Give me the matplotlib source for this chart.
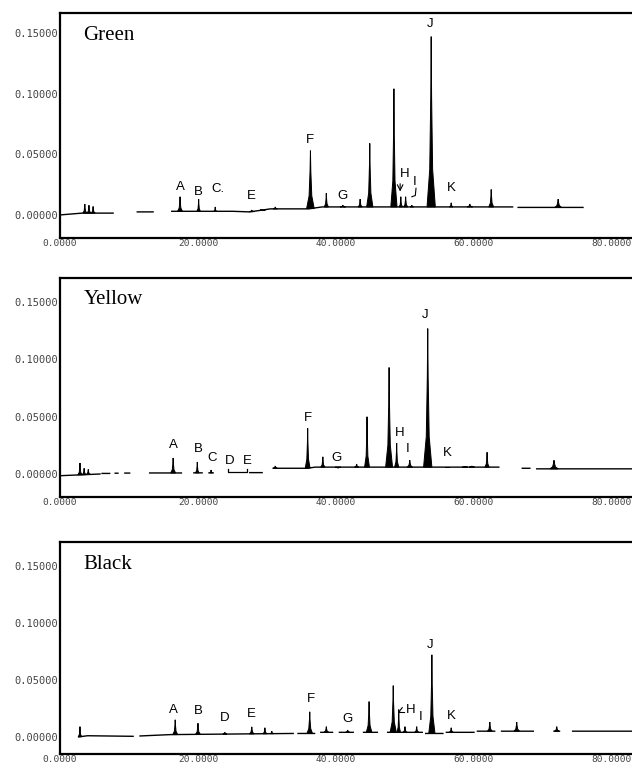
import numpy as np
import matplotlib.pyplot as plt

nan = np.nan

# ---- Green ----
green_base_t = [0.0, 3.2, 5.5, 7.7, nan, 11.2, 13.5, nan, 16.2, 25.0, 27.5, 30.5, 36.0, 38.0, 65.6, nan, 66.4, 75.8]
green_base_v = [0.0000, 0.0015, 0.0015, 0.0015, nan, 0.0025, 0.0025, nan, 0.0030, 0.0030, 0.0025, 0.0050, 0.0050, 0.0066, 0.0066, nan, 0.0062, 0.0062]
green_pk_t = [3.6, 4.2, 4.8, 17.4, 20.1, 22.5, 27.8, 29.4, 31.2, 36.3, 38.6, 41.0, 43.5, 44.9, 48.4, 49.4, 50.1, 51.0, 53.8, 56.7, 59.4, 62.5, 72.2]
green_pk_h = [0.009, 0.008, 0.007, 0.015, 0.013, 0.0066, 0.004, 0.0035, 0.0066, 0.053, 0.018, 0.008, 0.013, 0.059, 0.104, 0.015, 0.015, 0.008, 0.147, 0.010, 0.009, 0.021, 0.013]
green_pk_w = [0.3, 0.3, 0.3, 0.35, 0.25, 0.2, 0.4, 0.4, 0.3, 0.55, 0.3, 0.4, 0.3, 0.45, 0.45, 0.25, 0.3, 0.25, 0.6, 0.25, 0.4, 0.35, 0.5]
green_lab = ["A", "B", "C.", "E", "F", "G", "H", "I", "J", "K"]
green_lab_t = [17.4, 20.1, 22.9, 27.7, 36.2, 41.0, 50.0, 51.4, 53.6, 56.7]
green_lab_v = [0.0231, 0.0190, 0.0214, 0.0157, 0.0618, 0.0157, 0.0338, 0.0272, 0.157, 0.0222]

# ---- Yellow ----
yellow_base_t = [0.0, 5.8, nan, 6.1, 7.2, nan, 8.0, 8.4, nan, 9.4, 10.1, nan, 13.0, 17.6, nan, 19.4, 20.6, nan,
                 21.6, 22.2, nan, 27.5, 29.3, nan, 30.9, 35.8, 37.0, 63.6, nan, 67.0, 68.1, nan, 69.1, 85.0]
yellow_base_v = [-0.0015, 0.0000, nan, 0.0005, 0.0005, nan, 0.0007, 0.0007, nan, 0.0008, 0.0008, nan, 0.0009, 0.0009, nan,
                 0.0010, 0.0010, nan, 0.0010, 0.0010, nan, 0.0012, 0.0012, nan, 0.0050, 0.0050, 0.0060, 0.0060, nan,
                 0.0050, 0.0050, nan, 0.0045, 0.0045]
yellow_pk_t = [2.9, 3.5, 4.1, 16.4, 19.9, 21.9, 31.2, 35.9, 38.1, 40.3, 43.0, 44.5, 47.7, 48.8, 50.7, 53.3, 56.1, 58.7, 59.7, 61.9, 71.6]
yellow_pk_h = [0.0096, 0.005, 0.004, 0.014, 0.0105, 0.0035, 0.007, 0.040, 0.015, 0.005, 0.0087, 0.050, 0.093, 0.027, 0.012, 0.127, 0.006, 0.0065, 0.007, 0.019, 0.012]
yellow_pk_w = [0.3, 0.3, 0.3, 0.35, 0.25, 0.2, 0.3, 0.35, 0.3, 0.4, 0.3, 0.35, 0.5, 0.3, 0.4, 0.6, 0.3, 0.4, 0.4, 0.3, 0.6]
yellow_lab = ["A", "B", "C", "D", "E", "F", "G", "H", "I", "J", "K"]
yellow_lab_t = [16.4, 20.0, 22.0, 24.6, 27.1, 35.9, 40.1, 49.3, 50.4, 52.9, 56.2]
yellow_lab_v = [0.0253, 0.0218, 0.0140, 0.0113, 0.0113, 0.0489, 0.0140, 0.0358, 0.0218, 0.139, 0.0183]

# ---- Black ----
black_base_t = [2.7, 4.0, 10.6, nan, 11.6, 16.0, 33.8, nan, 34.5, 36.9, nan, 37.8, 39.5, nan, 40.5, 42.5, nan,
                44.0, 46.0, nan, 47.5, 52.5, nan, 53.0, 55.5, nan, 56.0, 60.0, nan, 60.5, 63.0, nan, 64.0, 68.6, nan,
                71.6, 72.4, nan, 74.3, 85.0]
black_base_v = [0.0000, 0.0010, 0.0005, nan, 0.0008, 0.0020, 0.0030, nan, 0.0030, 0.0030, nan, 0.0040, 0.0040, nan,
                0.0040, 0.0040, nan, 0.0040, 0.0040, nan, 0.0040, 0.0040, nan, 0.0030, 0.0030, nan, 0.0040, 0.0040, nan,
                0.0050, 0.0050, nan, 0.0050, 0.0050, nan, 0.0050, 0.0050, nan, 0.0050, 0.0050]
black_pk_t = [2.9, 16.7, 20.0, 23.9, 27.8, 29.7, 30.7, 36.2, 38.6, 41.7, 44.8, 48.3, 49.1, 50.0, 51.7, 53.9, 56.7, 62.3, 66.2, 72.0]
black_pk_h = [0.009, 0.015, 0.012, 0.004, 0.0088, 0.008, 0.005, 0.022, 0.009, 0.006, 0.031, 0.045, 0.024, 0.009, 0.009, 0.072, 0.008, 0.013, 0.013, 0.009]
black_pk_w = [0.25, 0.35, 0.35, 0.3, 0.35, 0.3, 0.25, 0.4, 0.35, 0.3, 0.4, 0.45, 0.25, 0.3, 0.3, 0.45, 0.3, 0.35, 0.4, 0.35]
black_lab = ["A", "B", "D", "E", "F", "G", "H", "I", "J", "K"]
black_lab_t = [16.5, 20.0, 23.9, 27.7, 36.4, 41.6, 50.9, 52.2, 53.6, 56.7]
black_lab_v = [0.0237, 0.0228, 0.0167, 0.0202, 0.0333, 0.0158, 0.0237, 0.0175, 0.0807, 0.0184]

x_ticks = [0, 20, 40, 60, 80]
x_ticklabels = ["0.0000", "20.0000", "40.0000", "60.0000", "80.0000"]
y_ticks = [0.0, 0.05, 0.10, 0.15]
y_ticklabels = ["0.00000", "0.05000", "0.10000", "0.15000"]

panels = [
    ("Green", green_base_t, green_base_v, green_pk_t, green_pk_h, green_pk_w, green_lab, green_lab_t, green_lab_v),
    ("Yellow", yellow_base_t, yellow_base_v, yellow_pk_t, yellow_pk_h, yellow_pk_w, yellow_lab, yellow_lab_t, yellow_lab_v),
    ("Black", black_base_t, black_base_v, black_pk_t, black_pk_h, black_pk_w, black_lab, black_lab_t, black_lab_v),
]

# axes boxes in figure fraction, and y-limits
boxes = [(0.0949, 0.6889, 0.92, 0.2941), (0.0949, 0.3503, 0.92, 0.2863), (0.0949, 0.0144, 0.92, 0.2772)]
ylims = [(-0.0190, 0.1664), (-0.0201, 0.1711), (-0.0150, 0.1710)]
title_y = [0.898, 0.900, 0.892]

# needle shaped peak outline (relative)
shape_x = np.array([-1.0, -0.35, -0.1, 0.0, 0.1, 0.35, 1.0])
shape_y = np.array([0.0, 0.22, 0.65, 1.0, 0.65, 0.22, 0.0])

fig = plt.figure(figsize=(6.32, 7.65), dpi=100)

axes = []
for i, (name, bt, bv, pt, ph, pw, lab, lt, lv) in enumerate(panels):
    ax = fig.add_axes(boxes[i])
    axes.append(ax)
    bt = np.array(bt, float)
    bv = np.array(bv, float)
    ax.plot(bt, bv, color="black", lw=1.0)
    ok = ~np.isnan(bt)
    for t, h, w in zip(pt, ph, pw):
        b = np.interp(t, bt[ok], bv[ok])
        ax.fill(t + shape_x * w, b + shape_y * (h - b), facecolor="black", edgecolor="black", lw=0.7)

    for s, t, v in zip(lab, lt, lv):
        ax.text(t, v, s, ha="center", va="center", fontsize=9.5, family="Liberation Sans")

    ax.text(0.04, title_y[i], name, transform=ax.transAxes, ha="left", va="center",
            fontsize=15, family="Liberation Serif")

    ax.set_xlim(0, 84.27)
    ax.set_ylim(*ylims[i])
    ax.set_xticks(x_ticks)
    ax.set_xticklabels(x_ticklabels, family="DejaVu Sans Mono")
    ax.set_yticks(y_ticks)
    ax.set_yticklabels(y_ticklabels, family="DejaVu Sans Mono")
    ax.tick_params(length=0, labelcolor="#444444")
    ax.tick_params(axis="y", labelsize=7.5, pad=1)
    ax.tick_params(axis="x", labelsize=6.8, pad=0.5)
    for side in ["left", "top", "bottom"]:
        ax.spines[side].set_linewidth(1.6)
    ax.spines["right"].set_visible(False)

# extra marks: H arrow and I hook in Green, D-E bracket in Yellow, small arrow in Black
axes[0].annotate("", xy=(49.3, 0.017), xytext=(49.3, 0.028),
                 arrowprops=dict(arrowstyle="->", lw=0.8, color="black"))
axes[0].plot([51.6, 51.5, 51.0], [0.022, 0.016, 0.015], color="black", lw=0.8)
axes[1].plot([24.3, 24.3, 27.1, 27.1], [0.0045, 0.0017, 0.0017, 0.0045], color="black", lw=0.9)
axes[2].annotate("", xy=(48.9, 0.021), xytext=(49.6, 0.023),
                 arrowprops=dict(arrowstyle="->", lw=0.8, color="black"))

fig.savefig("out.png", dpi=100)
